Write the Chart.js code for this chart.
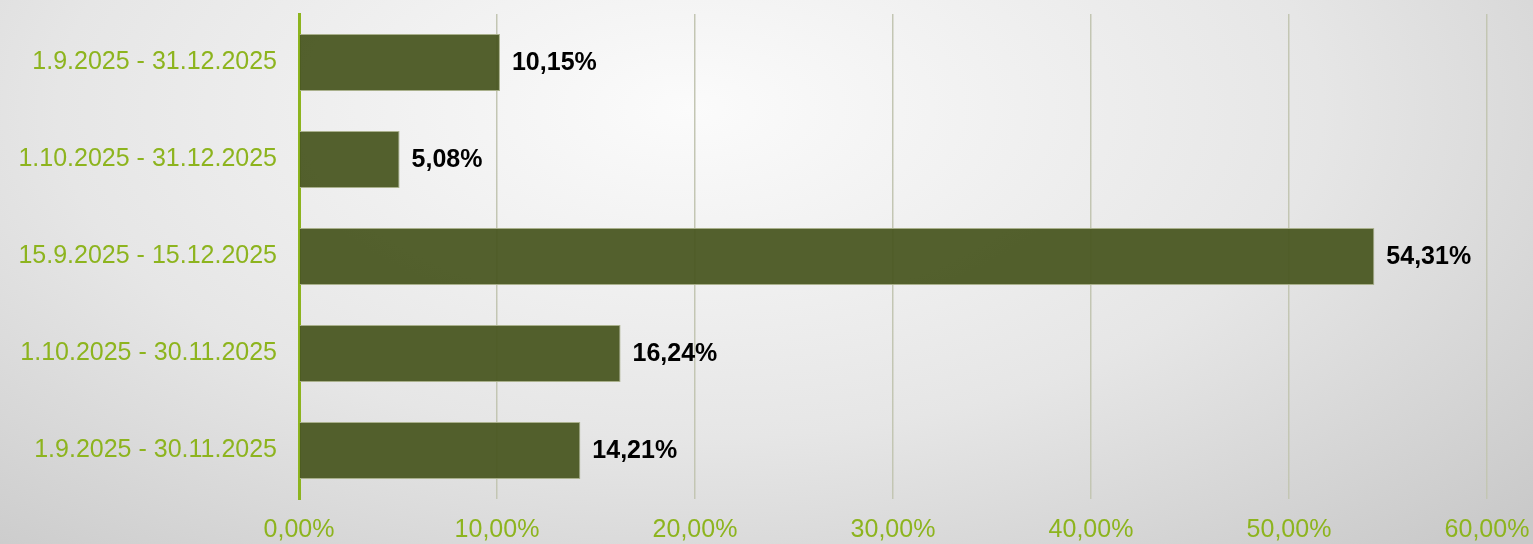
<!DOCTYPE html>
<html>
<head>
<meta charset="utf-8">
<script src="https://cdn.jsdelivr.net/npm/chart.js@4"></script>
<style>
  html, body { margin: 0; padding: 0; }
  body {
    width: 1533px; height: 544px; overflow: hidden;
    background: radial-gradient(ellipse 75% 110% at 45% 20%, #fbfbfb 0%, #e6e6e6 55%, #c9c9c9 100%);
  }
  #wrap { position: relative; width: 1533px; height: 544px; }
</style>
</head>
<body>
<div id="wrap"><canvas id="periodChart"></canvas></div>
<script>
const periods = [
  '1.9.2025 - 31.12.2025',
  '1.10.2025 - 31.12.2025',
  '15.9.2025 - 15.12.2025',
  '1.10.2025 - 30.11.2025',
  '1.9.2025 - 30.11.2025'
];
const shares = [10.15, 5.08, 54.31, 16.24, 14.21];
const axisMax = 60;
const axisStep = 10;

const green = '#8db41e';
const fmt = v => v.toFixed(2).replace('.', ',') + '%';

const valueLabels = {
  id: 'valueLabels',
  afterDatasetsDraw(chart) {
    const ctx = chart.ctx;
    const meta = chart.getDatasetMeta(0);
    ctx.save();
    ctx.font = 'bold 25px "Liberation Sans", Arial, sans-serif';
    ctx.fillStyle = '#000';
    ctx.textBaseline = 'middle';
    ctx.textAlign = 'left';
    meta.data.forEach((bar, i) => {
      ctx.fillText(fmt(shares[i]), bar.x + 12, bar.y + 1);
    });
    ctx.restore();
  }
};

document.addEventListener('DOMContentLoaded', function() {
  const ctx = document.getElementById('periodChart').getContext('2d');
  new Chart(ctx, {
    type: 'bar',
    data: {
      labels: periods,
      datasets: [{
        data: shares,
        backgroundColor: 'rgba(74, 87, 34, 0.95)',
        borderColor: '#a9b08c',
        borderWidth: 1,
        borderSkipped: 'start',
        barPercentage: 0.59,
        categoryPercentage: 1
      }]
    },
    options: {
      indexAxis: 'y',
      responsive: false,
      animation: false,
      devicePixelRatio: 1,
      layout: { padding: { top: 14, right: 46, left: 0, bottom: 0 } },
      plugins: { legend: { display: false }, tooltip: { enabled: false } },
      scales: {
        x: {
          min: 0,
          max: axisMax,
          ticks: {
            stepSize: axisStep,
            color: green,
            font: { family: '"Liberation Sans", Arial, sans-serif', size: 25 },
            padding: 16,
            callback: v => fmt(v)
          },
          grid: { color: '#c3c6b3', lineWidth: 1.5, drawTicks: false },
          border: { display: false },
          afterFit: scale => {
            scale.height = 45;
            scale.paddingLeft = 0;
            scale.paddingRight = 0;
          }
        },
        y: {
          ticks: {
            color: green,
            font: { family: '"Liberation Sans", Arial, sans-serif', size: 25 },
            padding: 14
          },
          grid: { display: false },
          border: { display: true, color: '#8db41e', width: 3 },
          afterFit: scale => {
            scale.width = 299;
            scale.paddingTop = 0;
            scale.paddingBottom = 0;
          }
        }
      }
    },
    plugins: [valueLabels]
  });
});
</script>
<script>
  document.getElementById('periodChart').width = 1533;
  document.getElementById('periodChart').height = 544;
</script>
</body>
</html>
